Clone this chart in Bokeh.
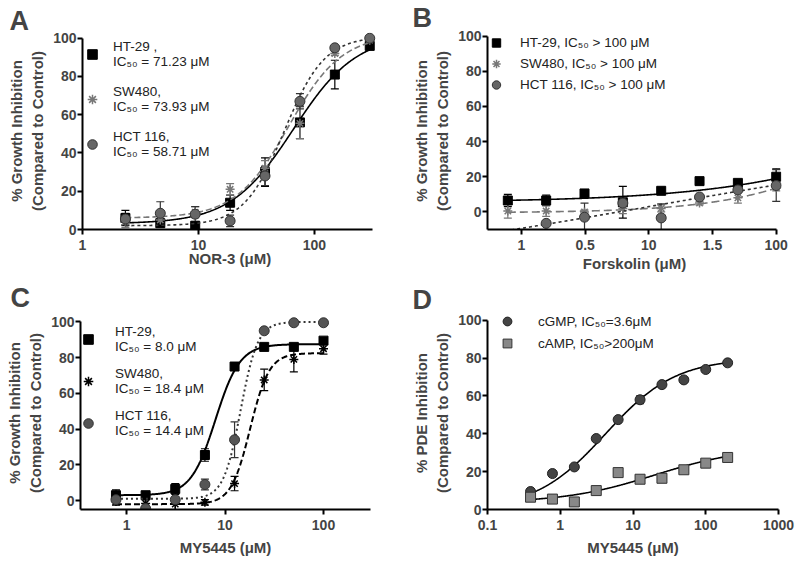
import numpy as np
from bokeh.plotting import figure
from bokeh.models import (ColumnDataSource, Whisker, TeeHead, Legend, LegendItem,
                          FixedTicker, Range1d, CustomJSTickFormatter)
from bokeh.layouts import column, row
from bokeh.embed import file_html
from bokeh.resources import INLINE

FONT = "Liberation Sans"

# ---------------- Panel A : NOR-3 ----------------
a_conc = [2.34375, 4.6875, 9.375, 18.75, 37.5, 75, 150, 300]
a_ht29 = [6, 3.3, 2, 14, 30, 56, 81, 96]
a_ht29_err = [4, 2, 1, 4, 7.5, 8.5, 7.5, 1]
a_sw480 = [4, 5, 9, 21, 32, 55.5, 92, 99]
a_sw480_err = [3, 2, 3, 3, 4, 8, 1, 1]
a_hct116 = [5.5, 8.5, 8, 4.5, 28, 67, 95, 100]
a_hct116_err = [3, 6, 4, 3, 5, 4, 1, 1]
# fitted dose-response parameters: bottom, top, IC50, Hill slope
a_fit_ht29 = [3, 102, 66, 1.6]
a_fit_sw480 = [6, 102, 60, 1.9]
a_fit_hct116 = [2, 101, 55, 2.5]
a_xticks = [1, 10, 100]
a_xlabels = ["1", "10", "100"]
a_legend = ["HT-29 ,\nIC\u2085\u2080 = 71.23 \u03bcM",
            "SW480,\nIC\u2085\u2080 = 73.93 \u03bcM",
            "HCT 116,\nIC\u2085\u2080 = 58.71 \u03bcM"]

# ---------------- Panel B : Forskolin ----------------
b_conc = [0.78125, 1.5625, 3.125, 6.25, 12.5, 25, 50, 100]
b_ht29 = [6.5, 6.5, 10.5, 5.5, 12, 17.5, 16.5, 20]
b_ht29_err = [3.5, 3, 0.5, 9, 1.5, 1, 1.5, 4.5]
b_sw480 = [0.5, 0.5, 0, 2, 2, 5, 8, 14]
b_sw480_err = [4, 3, 1, 3, 2, 1, 3, 2]
b_hct116 = [-14, -6.5, -3, 5, -3.4, 8.5, 12.5, 15]
b_hct116_err = [1, 1, 8, 1, 8, 1, 1, 9]
b_fit_ht29 = [5.5, 100, 2600, 0.55]
b_fit_sw480 = [-0.5, 100, 940, 0.81]
b_fit_hct116 = [-41, 47, 10, 0.25]
b_xticks = [1, 3.1623, 10, 31.623, 100]
b_xlabels = ["1", "0.5", "10", "1.5", "100"]
b_legend = ["HT-29, IC\u2085\u2080 > 100 \u03bcM",
            "SW480, IC\u2085\u2080 > 100 \u03bcM",
            "HCT 116, IC\u2085\u2080 > 100 \u03bcM"]

# ---------------- Panel C : MY5445 growth ----------------
c_conc = [0.78125, 1.5625, 3.125, 6.25, 12.5, 25, 50, 100]
c_ht29 = [3, 3, 6.5, 25.5, 75, 86, 86, 89.5]
c_ht29_err = [3, 2, 3, 3.5, 1, 1, 1, 1]
c_sw480 = [-0.5, -1.6, -2, -1, 9.5, 67.5, 79, 85]
c_sw480_err = [2, 2, 3, 1.5, 4, 6, 7, 3]
c_hct116 = [0.5, -4.5, 0.5, 9, 34, 95, 99.5, 99.5]
c_hct116_err = [3, 1, 1, 3, 10, 1, 1, 1]
c_fit_ht29 = [3, 87.5, 8, 3.5]
c_fit_sw480 = [-2, 82.5, 18, 4.5]
c_fit_hct116 = [1, 100, 14.4, 5]
c_xticks = [1, 10, 100]
c_xlabels = ["1", "10", "100"]
c_legend = ["HT-29,\nIC\u2085\u2080 = 8.0 \u03bcM",
            "SW480,\nIC\u2085\u2080 = 18.4 \u03bcM",
            "HCT 116,\nIC\u2085\u2080 = 14.4 \u03bcM"]

# ---------------- Panel D : PDE inhibition ----------------
d_conc = [0.390625, 0.78125, 1.5625, 3.125, 6.25, 12.5, 25, 50, 100, 200]
d_cgmp = [9.5, 19, 22.5, 37.5, 47.5, 58, 66, 68.5, 74, 77.5]
d_cgmp_err = [0.5, 0.5, 0.5, 0.5, 0.5, 2, 0.5, 0.5, 0.5, 0.5]
d_camp = [6.5, 5.5, 4, 10, 19.5, 16, 16.5, 21, 24.5, 27.5]
d_fit_cgmp = [0, 80, 4.2, 0.9]
d_fit_camp = [3.5, 33, 20, 0.7]
d_xticks = [0.1, 1, 10, 100, 1000]
d_xlabels = ["0.1", "1", "10", "100", "1000"]
d_legend = ["cGMP, IC\u2085\u2080=3.6\u03bcM", "cAMP, IC\u2085\u2080>200\u03bcM"]

Y_TICKS = [0, 20, 40, 60, 80, 100]
GROWTH_LABEL = "% Growth Inhibition\n(Compared to Control)"
PDE_LABEL = "% PDE Inhibition\n(Compared to Control)"


def hill(x, params):
    b, t, c, h = params
    x = np.asarray(x, dtype=float)
    return b + (t - b) / (1.0 + (c / x) ** h)


def make_fig(height, xr, yr, borders, xticks, xlabels, xlabel, ylabel, xbounds, ybounds,
             letter, loff, lstand, xlab_standoff):
    l, r, t, b = borders
    p = figure(width=400, height=height, x_axis_type="log",
               x_range=Range1d(*xr), y_range=Range1d(*yr),
               output_backend="svg", toolbar_location=None,
               min_border_left=l, min_border_right=r,
               min_border_top=t, min_border_bottom=b)
    p.outline_line_color = None
    p.grid.visible = False
    p.title.text = letter
    p.title.align = "left"
    p.title.offset = loff
    p.title.standoff = lstand
    p.title.text_font = FONT
    p.title.text_font_style = "bold"
    p.title.text_font_size = "27px"
    p.title.vertical_align = "bottom"
    xa, ya = p.xaxis[0], p.yaxis[0]
    for ax in (xa, ya):
        ax.axis_line_width = 2
        ax.major_tick_line_width = 2
        ax.major_tick_out = 5
        ax.major_tick_in = 0
        ax.minor_tick_line_color = None
        ax.major_label_text_font = FONT
        ax.major_label_text_font_style = "bold"
        ax.major_label_text_font_size = "14px"
        ax.axis_label_text_font = FONT
        ax.axis_label_text_font_style = "bold"
        ax.axis_label_text_font_size = "15px"
        ax.axis_label_text_line_height = 1.25
    ya.axis_label_standoff = 4
    ya.major_label_standoff = 1
    xa.major_label_standoff = 5
    xa.axis_label_standoff = xlab_standoff
    xa.ticker = FixedTicker(ticks=xticks)
    xa.formatter = CustomJSTickFormatter(args=dict(tvals=xticks, tlabels=xlabels), code="""
        for (let i = 0; i < tvals.length; i++) {
            if (Math.abs(Math.log10(tvals[i]) - Math.log10(tick)) < 1e-4) return tlabels[i];
        }
        return '';
    """)
    ya.ticker = FixedTicker(ticks=Y_TICKS)
    xa.axis_label = xlabel
    ya.axis_label = ylabel
    xa.bounds = xbounds
    ya.bounds = ybounds
    return p


def add_series(p, conc, vals, err, fit, marker, size, fill, line, dash, curve_x, lw=1.6):
    xs = np.logspace(np.log10(curve_x[0]), np.log10(curve_x[1]), 300)
    p.line(xs, hill(xs, fit), line_color="black" if dash == "solid" else line,
           line_width=lw, line_dash=dash)
    if err is not None:
        src = ColumnDataSource(dict(x=conc, lo=[v - e for v, e in zip(vals, err)],
                                    hi=[v + e for v, e in zip(vals, err)]))
        w = Whisker(base="x", lower="lo", upper="hi", source=src, dimension="height",
                    line_color=line, line_width=1.2,
                    lower_head=TeeHead(size=8, line_color=line, line_width=1.2),
                    upper_head=TeeHead(size=8, line_color=line, line_width=1.2))
        p.add_layout(w)
    r = p.scatter(conc, vals, marker=marker, size=size, fill_color=fill, line_color=line,
                  line_width=1.5 if marker == "asterisk" else 1)
    return r


def add_legend(p, renderers, labels, loc, glyph_h, spacing, standoff):
    items = [LegendItem(label=lab, renderers=[r]) for lab, r in zip(labels, renderers)]
    leg = Legend(items=items, location=loc, margin=0, padding=0, spacing=spacing,
                 glyph_width=24, glyph_height=glyph_h, label_standoff=standoff,
                 label_height=12, label_text_font=FONT, label_text_font_size="13.5px",
                 label_text_line_height=1.15, label_text_color="#222222",
                 border_line_color=None, background_fill_alpha=0)
    p.add_layout(leg)


# ---- A ----
pA = make_fig(276, (1, 350), (0, 103), (82, 23, 30, 47), a_xticks, a_xlabels,
              "NOR-3 (\u03bcM)", GROWTH_LABEL, (1, 316), (0, 100), "A", -73, -7, -3)
rA1 = add_series(pA, a_conc, a_ht29, a_ht29_err, a_fit_ht29, "square", 9, "black", "black",
                 "solid", (a_conc[0], a_conc[-1]))
rA2 = add_series(pA, a_conc, a_sw480, a_sw480_err, a_fit_sw480, "asterisk", 9, "#888888", "#777777",
                 "6 3", (a_conc[0], a_conc[-1]))
rA3 = add_series(pA, a_conc, a_hct116, a_hct116_err, a_fit_hct116, "circle", 10, "#666666", "#333333",
                 "3 3", (a_conc[0], a_conc[-1]))
add_legend(pA, [rA1, rA2, rA3], a_legend, (-2, 70), 24, 15, 9)

# ---- B ----
pB = make_fig(276, (0.541, 110), (-10, 102), (87, 19, 31, 45), b_xticks, b_xlabels,
              "Forskolin (\u03bcM)", GROWTH_LABEL, (0.541, 100), (-10, 100), "B", -75, 0, 2)
rB1 = add_series(pB, b_conc, b_ht29, b_ht29_err, b_fit_ht29, "square", 9, "black", "black",
                 "solid", (b_conc[0], b_conc[-1]))
rB2 = add_series(pB, b_conc, b_sw480, b_sw480_err, b_fit_sw480, "asterisk", 9, "#888888", "#777777",
                 "8 4", (b_conc[0], b_conc[-1]))
rB3 = add_series(pB, b_conc, b_hct116, b_hct116_err, b_fit_hct116, "circle", 10, "#666666", "#333333",
                 "3 3", (0.541, b_conc[-1]))
add_legend(pB, [rB1, rB2, rB3], b_legend, (-3, 134), 21, 0, 12)

# ---- C ----
pC = make_fig(294, (0.341, 300), (-5, 103), (80, 30, 39, 57), c_xticks, c_xlabels,
              "MY5445 (\u03bcM)", GROWTH_LABEL, (0.341, 300), (-5, 100), "C", -70, 8, 6)
rC1 = add_series(pC, c_conc, c_ht29, c_ht29_err, c_fit_ht29, "square", 9, "black", "black",
                 "solid", (c_conc[0], c_conc[-1]), lw=2)
rC2 = add_series(pC, c_conc, c_sw480, c_sw480_err, c_fit_sw480, "asterisk", 9, "black", "black",
                 "6 3", (c_conc[0], c_conc[-1]), lw=2)
rC3 = add_series(pC, c_conc, c_hct116, c_hct116_err, c_fit_hct116, "circle", 10, "#555555", "#333333",
                 "2 3", (c_conc[0], c_conc[-1]), lw=2)
add_legend(pC, [rC1, rC2, rC3], c_legend, (-4, 71.5), 24, 12, 15)

# ---- D ----
pD = make_fig(294, (0.1, 1000), (0, 102), (87, 22, 35, 61), d_xticks, d_xlabels,
              "MY5445 (\u03bcM)", PDE_LABEL, (0.1, 1000), (0, 100), "D", -75, 4, 6)
rD1 = add_series(pD, d_conc, d_cgmp, d_cgmp_err, d_fit_cgmp, "circle", 10, "#444444", "#222222",
                 "solid", (d_conc[0], d_conc[-1]))
rD2 = add_series(pD, d_conc, d_camp, None, d_fit_camp, "square", 10, "#888888", "#333333",
                 "solid", (d_conc[0], d_conc[-1]))
add_legend(pD, [rD1, rD2], d_legend, (8, 155), 22, 0, 19)

layout = column(row(pA, pB), row(pC, pD))
open("out.html", "w").write(file_html(layout, INLINE))
